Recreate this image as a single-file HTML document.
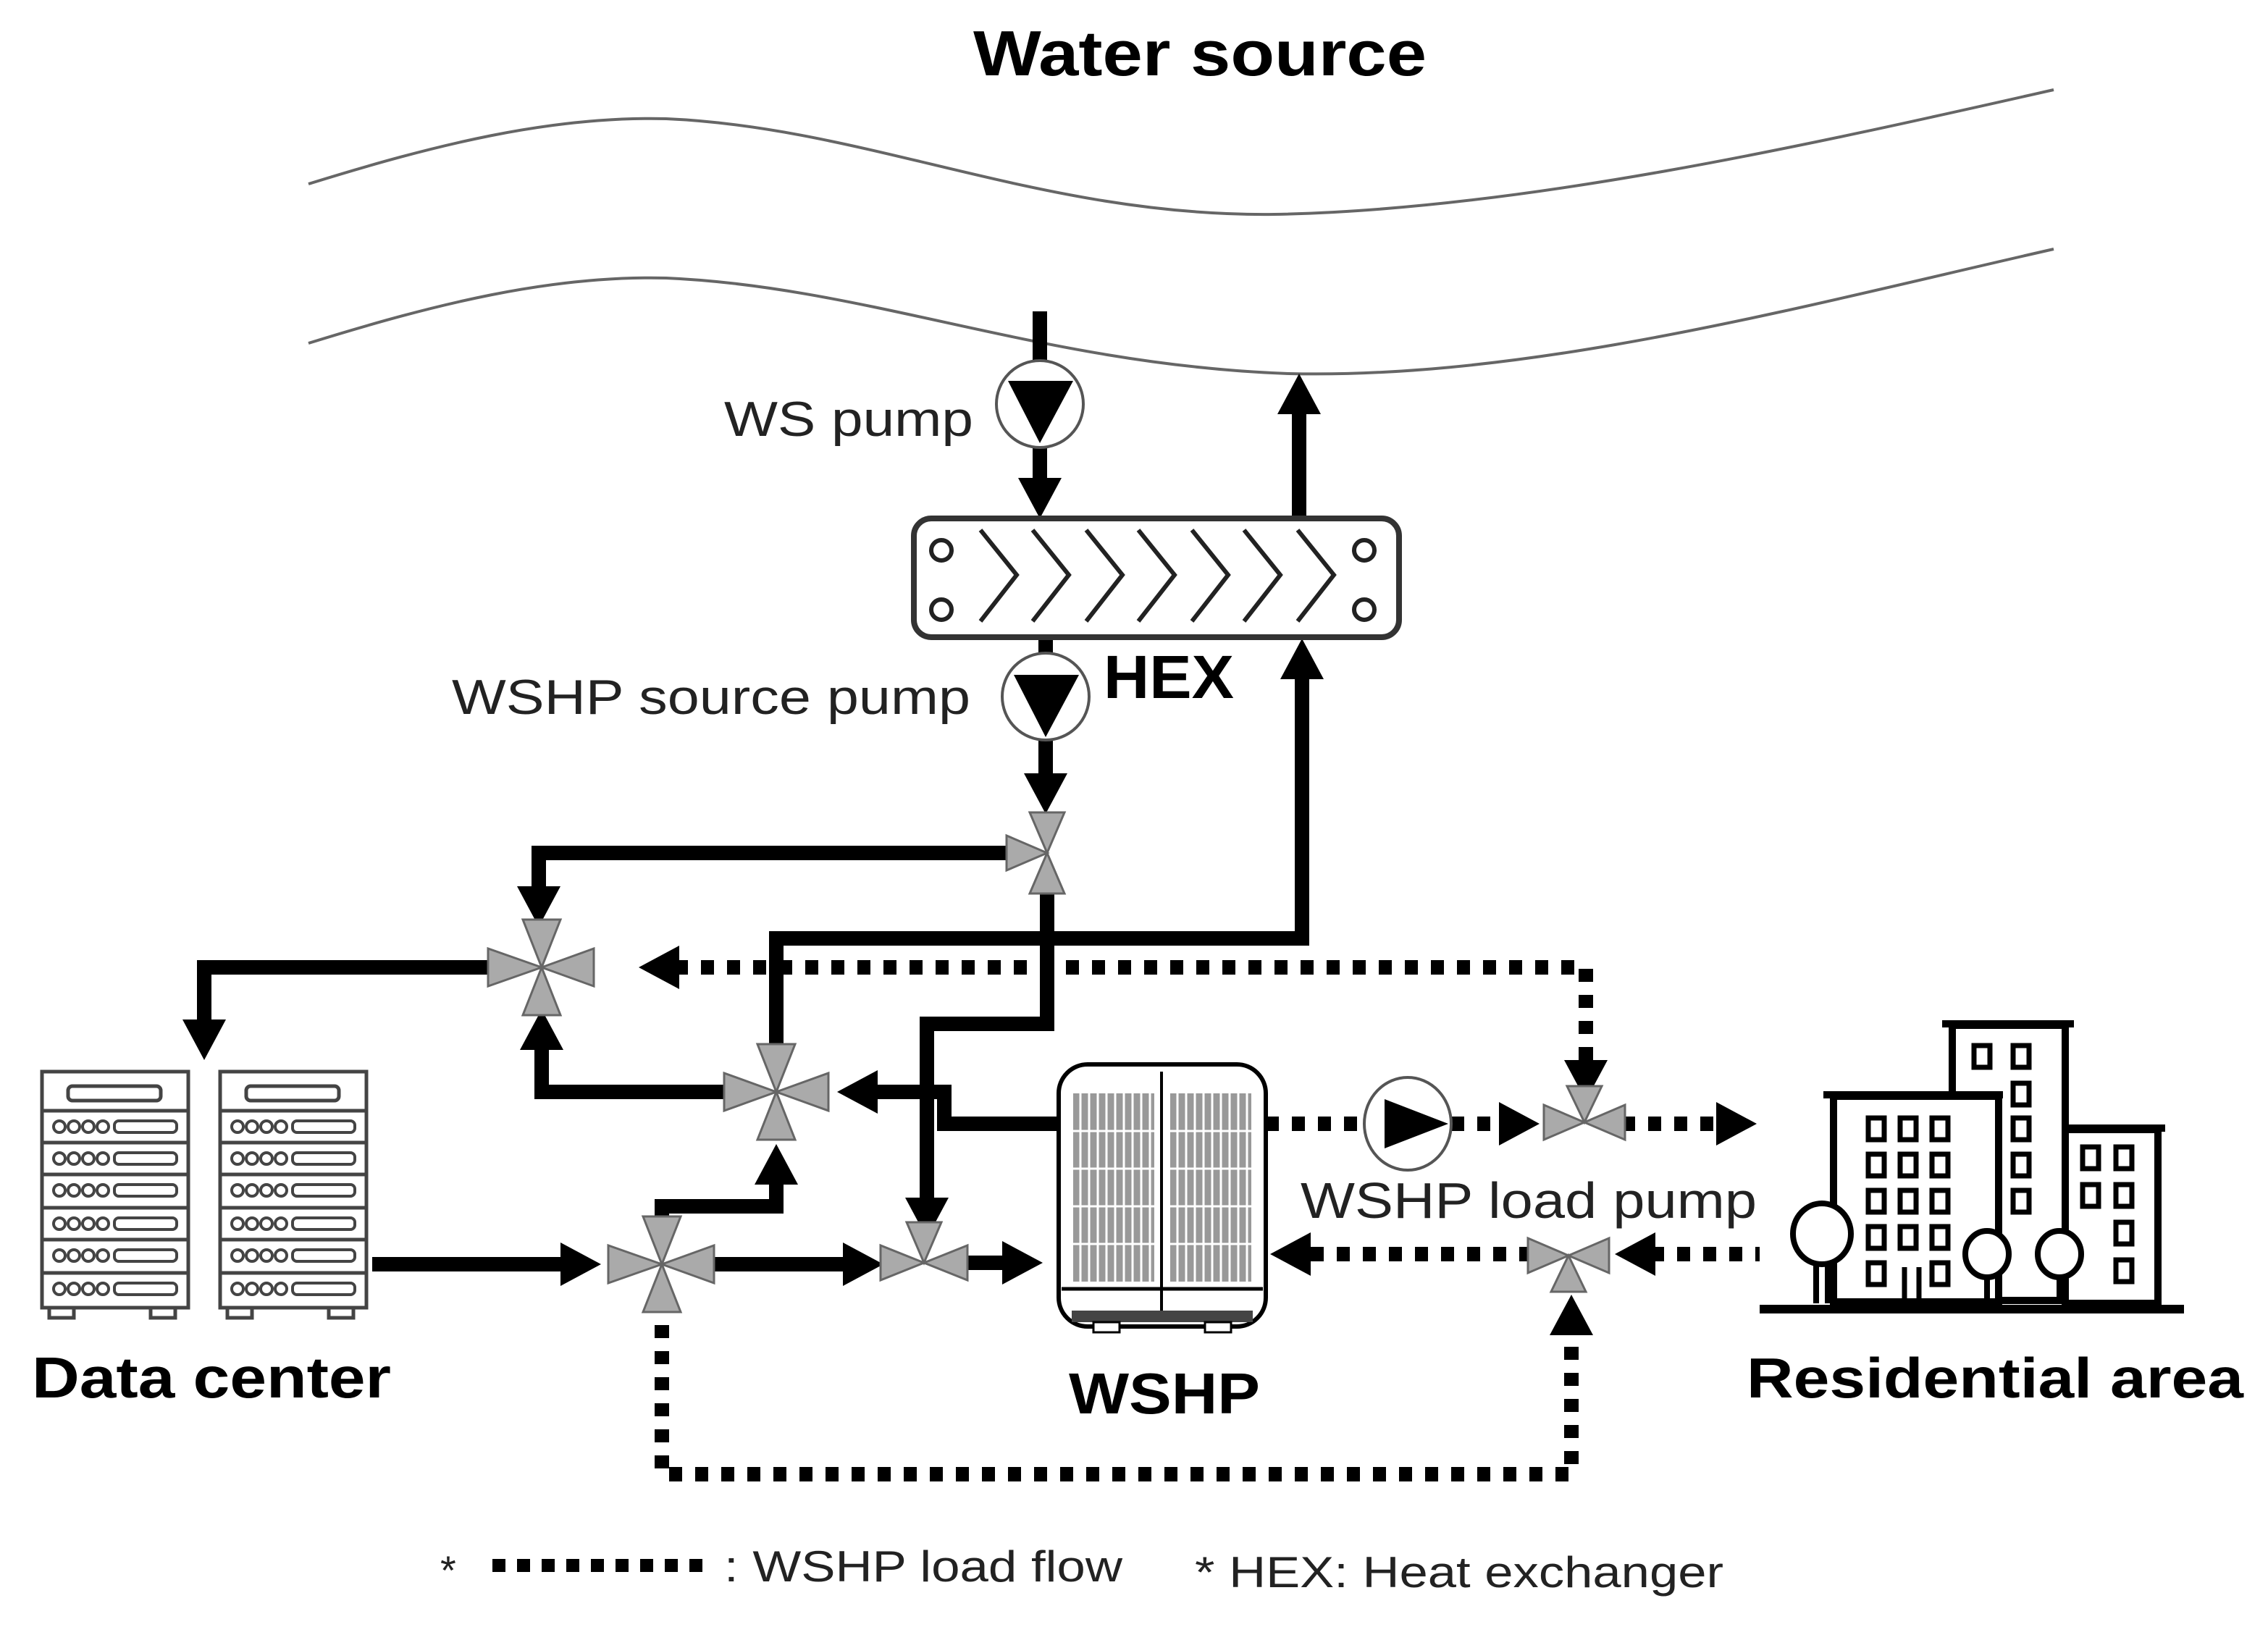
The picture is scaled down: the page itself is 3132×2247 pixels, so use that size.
<!DOCTYPE html>
<html><head><meta charset="utf-8"><style>html,body{margin:0;padding:0;background:#fff}svg{display:block}</style></head>
<body>
<svg width="3132" height="2247" viewBox="0 0 1566 1123.5" xmlns="http://www.w3.org/2000/svg" font-family="Liberation Sans, Arial, sans-serif">
<rect width="1566" height="1124" fill="#fff"/>
<text x="672" y="52" font-size="44" font-weight="bold" textLength="313" lengthAdjust="spacingAndGlyphs">Water source</text>
<path d="M213,127 C300,100 380,80 460,82 C600,88 720,150 880,148 C1050,145 1250,100 1418,62" fill="none" stroke="#666" stroke-width="2"/>
<path d="M213,237 C300,210 380,190 460,192 C600,198 720,252 890,258 C1060,262 1250,210 1418,172" fill="none" stroke="#666" stroke-width="2"/>

<g stroke="#000" stroke-width="10" fill="none" stroke-linejoin="miter">
<line x1="718" y1="215" x2="718" y2="250"/>
<line x1="718" y1="308" x2="718" y2="335"/>
<line x1="897" y1="358" x2="897" y2="285"/>
<line x1="722" y1="440" x2="722" y2="452"/>
<line x1="722" y1="510" x2="722" y2="540"/>
<polyline points="700,589 372,589 372,615"/>
<polyline points="723,612 723,707 640,707 640,830"/>
<polyline points="536,733 536,648 899,648 899,468"/>
<polyline points="731,776 652,776 652,754 602,754"/>
<polyline points="512,754 374,754 374,722"/>
<polyline points="350,668 141,668 141,705"/>
<line x1="257" y1="873" x2="390" y2="873"/>
<line x1="480" y1="873" x2="585" y2="873"/>
<line x1="660" y1="872" x2="695" y2="872"/>
<polyline points="457,850 457,833 536,833 536,815"/>
</g>
<g stroke="#000" stroke-width="10" fill="none" stroke-dasharray="9 9">
<polyline points="466,668 1095,668 1095,735"/>
<polyline points="457,897 457,1018 1085,1018 1085,922"/>
<line x1="874" y1="776" x2="942" y2="776"/>
<line x1="1002" y1="776" x2="1040" y2="776"/>
<line x1="1120" y1="776" x2="1190" y2="776"/>
<line x1="905" y1="866" x2="1060" y2="866"/>
<line x1="1140" y1="866" x2="1215" y2="866"/>
</g>
<g fill="#000">
<polygon points="703,330 733,330 718,358"/>
<polygon points="882,286 912,286 897,258"/>
<polygon points="707,534 737,534 722,562"/>
<polygon points="357,612 387,612 372,640"/>
<polygon points="625,827 655,827 640,855"/>
<polygon points="884,469 914,469 899,441"/>
<polygon points="606,739 606,769 578,754"/>
<polygon points="359,725 389,725 374,697"/>
<polygon points="126,704 156,704 141,732"/>
<polygon points="387,858 387,888 415,873"/>
<polygon points="582,858 582,888 610,873"/>
<polygon points="692,857 692,887 720,872"/>
<polygon points="521,818 551,818 536,790"/>
<polygon points="469,653 469,683 441,668"/>
<polygon points="1080,732 1110,732 1095,760"/>
<polygon points="1035,761 1035,791 1063,776"/>
<polygon points="1185,761 1185,791 1213,776"/>
<polygon points="905,851 905,881 877,866"/>
<polygon points="1143,851 1143,881 1115,866"/>
<polygon points="1070,922 1100,922 1085,894"/>
</g>
<g fill="#aaa" stroke="#666" stroke-width="1.5">
<polygon points="723,589 711,561 735,561"/><polygon points="723,589 695,577 695,601"/><polygon points="723,589 711,617 735,617"/>
<polygon points="374,668 361,635 387,635"/><polygon points="374,668 361,701 387,701"/><polygon points="374,668 337,655 337,681"/><polygon points="374,668 410,655 410,681"/>
<polygon points="536,754 523,721 549,721"/><polygon points="536,754 523,787 549,787"/><polygon points="536,754 500,741 500,767"/><polygon points="536,754 572,741 572,767"/>
<polygon points="457,873 444,840 470,840"/><polygon points="457,873 444,906 470,906"/><polygon points="457,873 420,860 420,886"/><polygon points="457,873 493,860 493,886"/>
<polygon points="638,872 626,844 650,844"/><polygon points="638,872 608,860 608,884"/><polygon points="638,872 668,860 668,884"/>
<polygon points="1094,775 1082,750 1106,750"/><polygon points="1094,775 1066,763 1066,787"/><polygon points="1094,775 1122,763 1122,787"/>
<polygon points="1083,867 1071,892 1095,892"/><polygon points="1083,867 1055,855 1055,879"/><polygon points="1083,867 1111,855 1111,879"/>
</g>
<circle cx="718" cy="279" r="30" fill="#fff" stroke="#555" stroke-width="2"/>
<polygon points="696,263 741,263 718,306" fill="#000"/>
<circle cx="722" cy="481" r="30" fill="#fff" stroke="#555" stroke-width="2"/>
<polygon points="700,466 745,466 722,509" fill="#000"/>
<ellipse cx="972" cy="776" rx="30" ry="32" fill="#fff" stroke="#555" stroke-width="2"/>
<polygon points="956,759 1000,776 956,793" fill="#000"/>
<rect x="631" y="358" width="335" height="82" rx="12" fill="#fff" stroke="#333" stroke-width="4"/>
<g fill="none" stroke="#222" stroke-width="3">
<circle cx="650" cy="380" r="7"/><circle cx="650" cy="421" r="7"/><circle cx="942" cy="380" r="7"/><circle cx="942" cy="421" r="7"/>
<polyline points="677,366 702,397 677,429"/><polyline points="713,366 738,397 713,429"/><polyline points="750,366 775,397 750,429"/><polyline points="786,366 811,397 786,429"/><polyline points="823,366 848,397 823,429"/><polyline points="859,366 884,397 859,429"/><polyline points="896,366 921,397 896,429"/>
</g>
<rect x="731" y="735" width="143" height="181" rx="20" fill="#fff" stroke="#000" stroke-width="3"/>
<rect x="741" y="755" width="56" height="130" fill="#999"/>
<rect x="808" y="755" width="56" height="130" fill="#999"/>
<g stroke="#fff" stroke-width="1.5">
<line x1="746" y1="755" x2="746" y2="885"/><line x1="752" y1="755" x2="752" y2="885"/><line x1="758" y1="755" x2="758" y2="885"/><line x1="764" y1="755" x2="764" y2="885"/><line x1="770" y1="755" x2="770" y2="885"/><line x1="776" y1="755" x2="776" y2="885"/><line x1="782" y1="755" x2="782" y2="885"/><line x1="788" y1="755" x2="788" y2="885"/><line x1="794" y1="755" x2="794" y2="885"/>
<line x1="813" y1="755" x2="813" y2="885"/><line x1="819" y1="755" x2="819" y2="885"/><line x1="825" y1="755" x2="825" y2="885"/><line x1="831" y1="755" x2="831" y2="885"/><line x1="837" y1="755" x2="837" y2="885"/><line x1="843" y1="755" x2="843" y2="885"/><line x1="849" y1="755" x2="849" y2="885"/><line x1="855" y1="755" x2="855" y2="885"/><line x1="861" y1="755" x2="861" y2="885"/>
<line x1="741" y1="781" x2="864" y2="781"/><line x1="741" y1="807" x2="864" y2="807"/><line x1="741" y1="833" x2="864" y2="833"/><line x1="741" y1="859" x2="864" y2="859"/>
</g>
<line x1="802" y1="740" x2="802" y2="912" stroke="#000" stroke-width="2"/>
<line x1="733" y1="890" x2="872" y2="890" stroke="#000" stroke-width="2.5"/>
<rect x="740" y="905" width="125" height="8" fill="#444"/>
<rect x="755" y="913" width="18" height="7" fill="#fff" stroke="#000" stroke-width="1.5"/>
<rect x="832" y="913" width="18" height="7" fill="#fff" stroke="#000" stroke-width="1.5"/>
<g id="rack" fill="none" stroke="#444" stroke-width="2.5">
<rect x="29" y="740" width="101" height="163" fill="#fff"/>
<rect x="47" y="750" width="64" height="10" rx="3"/>
<line x1="29" y1="767" x2="130" y2="767"/><line x1="29" y1="789" x2="130" y2="789"/><line x1="29" y1="811" x2="130" y2="811"/><line x1="29" y1="834" x2="130" y2="834"/><line x1="29" y1="856" x2="130" y2="856"/><line x1="29" y1="879" x2="130" y2="879"/>
<g stroke-width="2">
<circle cx="41" cy="778" r="4"/><circle cx="51" cy="778" r="4"/><circle cx="61" cy="778" r="4"/><circle cx="71" cy="778" r="4"/><rect x="79" y="774" width="43" height="8" rx="3"/>
<circle cx="41" cy="800" r="4"/><circle cx="51" cy="800" r="4"/><circle cx="61" cy="800" r="4"/><circle cx="71" cy="800" r="4"/><rect x="79" y="796" width="43" height="8" rx="3"/>
<circle cx="41" cy="822" r="4"/><circle cx="51" cy="822" r="4"/><circle cx="61" cy="822" r="4"/><circle cx="71" cy="822" r="4"/><rect x="79" y="818" width="43" height="8" rx="3"/>
<circle cx="41" cy="845" r="4"/><circle cx="51" cy="845" r="4"/><circle cx="61" cy="845" r="4"/><circle cx="71" cy="845" r="4"/><rect x="79" y="841" width="43" height="8" rx="3"/>
<circle cx="41" cy="867" r="4"/><circle cx="51" cy="867" r="4"/><circle cx="61" cy="867" r="4"/><circle cx="71" cy="867" r="4"/><rect x="79" y="863" width="43" height="8" rx="3"/>
<circle cx="41" cy="890" r="4"/><circle cx="51" cy="890" r="4"/><circle cx="61" cy="890" r="4"/><circle cx="71" cy="890" r="4"/><rect x="79" y="886" width="43" height="8" rx="3"/>
</g>
<rect x="34" y="903" width="17" height="7"/><rect x="104" y="903" width="17" height="7"/>
</g>
<use href="#rack" x="123"/>
<g fill="#fff" stroke="#000" stroke-width="5">
<rect x="1348" y="708" width="78" height="190"/>
<line x1="1341" y1="707" x2="1432" y2="707"/>
<rect x="1266" y="757" width="114" height="142"/>
<line x1="1259" y1="756" x2="1383" y2="756"/>
<rect x="1426" y="780" width="64" height="120"/>
<line x1="1426" y1="779" x2="1495" y2="779"/>
</g>
<g fill="#fff" stroke="#000" stroke-width="3.5">
<rect x="1290" y="772" width="11" height="15"/><rect x="1312" y="772" width="11" height="15"/><rect x="1334" y="772" width="11" height="15"/>
<rect x="1290" y="797" width="11" height="15"/><rect x="1312" y="797" width="11" height="15"/><rect x="1334" y="797" width="11" height="15"/>
<rect x="1290" y="822" width="11" height="15"/><rect x="1312" y="822" width="11" height="15"/><rect x="1334" y="822" width="11" height="15"/>
<rect x="1290" y="847" width="11" height="15"/><rect x="1312" y="847" width="11" height="15"/><rect x="1334" y="847" width="11" height="15"/>
<rect x="1290" y="872" width="11" height="15"/><rect x="1334" y="872" width="11" height="15"/>
<rect x="1363" y="722" width="11" height="15"/><rect x="1390" y="722" width="11" height="15"/>
<rect x="1390" y="748" width="11" height="15"/><rect x="1390" y="772" width="11" height="15"/><rect x="1390" y="797" width="11" height="15"/><rect x="1390" y="822" width="11" height="15"/>
<rect x="1438" y="792" width="11" height="15"/><rect x="1461" y="792" width="11" height="15"/>
<rect x="1438" y="818" width="11" height="15"/><rect x="1461" y="818" width="11" height="15"/>
<rect x="1461" y="844" width="11" height="15"/><rect x="1461" y="870" width="11" height="15"/>
<line x1="1315" y1="875" x2="1315" y2="900"/><line x1="1325" y1="875" x2="1325" y2="900"/>
</g>
<g fill="#fff" stroke="#000" stroke-width="4">
<line x1="1254" y1="870" x2="1254" y2="900"/><line x1="1262" y1="870" x2="1262" y2="900"/>
<ellipse cx="1258" cy="852" rx="20" ry="21"/>
<line x1="1372" y1="880" x2="1372" y2="900"/>
<ellipse cx="1372" cy="866" rx="15" ry="16"/>
<line x1="1422" y1="880" x2="1422" y2="900"/>
<ellipse cx="1422" cy="866" rx="15" ry="16"/>
</g>
<line x1="1215" y1="904" x2="1508" y2="904" stroke="#000" stroke-width="6"/>
<g fill="#222">
<text x="500" y="301" font-size="34" textLength="172" lengthAdjust="spacingAndGlyphs">WS pump</text>
<text x="312" y="493" font-size="34" textLength="358" lengthAdjust="spacingAndGlyphs">WSHP source pump</text>
<text x="762" y="482" font-size="42" font-weight="bold" fill="#000" textLength="90" lengthAdjust="spacingAndGlyphs">HEX</text>
<text x="898" y="841" font-size="35" textLength="315" lengthAdjust="spacingAndGlyphs">WSHP load pump</text>
<text x="22" y="965" font-size="40" font-weight="bold" fill="#000" textLength="248" lengthAdjust="spacingAndGlyphs">Data center</text>
<text x="738" y="976" font-size="40" font-weight="bold" fill="#000" textLength="132" lengthAdjust="spacingAndGlyphs">WSHP</text>
<text x="1206" y="965" font-size="39" font-weight="bold" fill="#000" textLength="343" lengthAdjust="spacingAndGlyphs">Residential area</text>
<text x="304" y="1094" font-size="28">*</text>
<text x="500" y="1092" font-size="30" textLength="275" lengthAdjust="spacingAndGlyphs">: WSHP load flow</text>
<text x="825" y="1096" font-size="30" textLength="365" lengthAdjust="spacingAndGlyphs">* HEX: Heat exchanger</text>
</g>
<line x1="340" y1="1081" x2="488" y2="1081" stroke="#000" stroke-width="9" stroke-dasharray="9 8"/>
</svg>
</body></html>
